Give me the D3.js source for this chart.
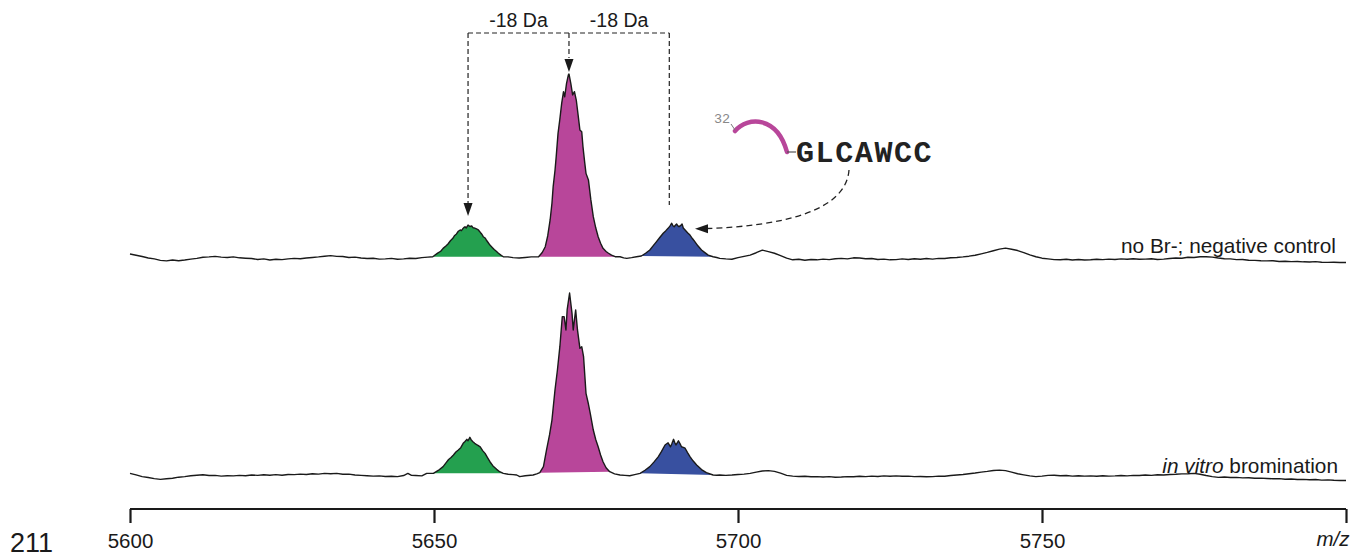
<!DOCTYPE html>
<html lang="en">
<head>
  <meta charset="UTF-8">
  <title>MALDI spectra</title>
  <style>
    body { margin: 0; background: #fff; }
    svg { display: block; font-family: "Liberation Sans", Arial, sans-serif; }
  </style>
</head>
<body>
  <svg width="1362" height="557"></svg>
  <script src="https://d3js.org/d3.v7.min.js"></script>
  <script>
    // m/z, relative intensity (% of base peak)
    var controlSpectrum = [
      [5600,1.1],[5601,0.4],[5602,-0.3],[5603,-1.1],[5604,-1.6],[5605,-2.4],[5606,-2.7],[5607,-2.2],[5608,-2.6],[5609,-2.2],
      [5610,-1.7],[5611,-1.3],[5612,-0.7],[5613,-0.5],[5614,-0.2],[5615,-0.6],[5616,-0.8],[5617,-0.5],[5618,-1.0],[5619,-1.2],
      [5620,-1.4],[5621,-1.9],[5622,-1.6],[5623,-2.2],[5624,-1.8],[5625,-2.0],[5626,-1.6],[5627,-1.3],[5628,-1.5],[5629,-1.1],
      [5630,-0.8],[5631,-0.5],[5632,-0.1],[5633,0.2],[5634,-0.2],[5635,-0.3],[5636,-0.8],[5637,-0.6],[5638,-1.1],[5639,-1.4],
      [5640,-1.2],[5641,-1.7],[5642,-1.6],[5643,-1.3],[5644,-1.8],[5645,-1.6],[5646,-1.2],[5647,-1.4],[5648,-0.9],[5649,-0.6],
      [5649.8,-0.4],[5650.6,1.6],[5651.1,2.6],[5651.5,4.2],[5652.0,5.6],[5652.3,6.6],[5652.7,8.4],[5653.1,9.7],[5653.4,11.3],
      [5653.7,12.1],[5654.0,13.6],[5654.3,14.3],[5654.5,13.9],[5654.7,14.8],[5654.9,15.6],[5655.1,16.1],[5655.3,15.4],
      [5655.6,17.0],[5655.9,16.2],[5656.2,16.5],[5656.4,15.6],[5656.6,15.4],[5656.9,15.0],[5657.3,14.3],[5657.5,13.5],
      [5657.7,12.6],[5657.9,11.8],[5658.1,10.6],[5658.4,9.9],[5658.6,8.8],[5658.9,7.4],[5659.2,6.0],[5659.5,5.0],[5659.9,3.6],
      [5660.2,2.7],[5660.6,1.5],[5661.0,0.5],[5661.4,-0.4],
      [5662.2,-0.5],[5663,-0.9],[5664,-1.1],[5665,-0.8],[5666,-0.5],
      [5667.2,-0.4],[5667.8,1.9],[5668.3,5.1],[5668.7,11.0],[5669.1,19.8],[5669.4,29.0],[5669.6,38.1],[5669.9,47.0],
      [5670.1,54.6],[5670.4,67.4],[5670.7,75.2],[5671.0,83.9],[5671.3,90.3],[5671.5,87.5],[5671.8,94.9],[5672.1,99.5],
      [5672.2,100],[5672.5,94.9],[5672.8,88.5],[5673.1,90.3],[5673.4,85.7],[5673.7,77.5],[5674.0,69.2],[5674.3,68.3],
      [5674.5,60.1],[5674.8,51.0],[5675.0,45.4],[5675.4,41.8],[5675.8,30.8],[5676.2,21.6],[5676.6,15.5],[5677.0,10.6],
      [5677.4,7.0],[5677.8,4.2],[5678.3,2.5],[5678.7,1.5],[5679.2,0.5],[5679.8,-0.4],
      [5680.6,-0.4],[5681.2,-1.0],[5681.7,-1.3],[5682.5,-0.9],[5683.3,-0.4],
      [5684.1,0.0],[5684.8,1.5],[5685.5,3.3],[5686.0,5.4],[5686.6,7.9],[5687.1,10.0],[5687.7,12.5],[5688.1,13.8],[5688.5,15.2],
      [5688.8,16.4],[5689.1,18.0],[5689.3,16.6],[5689.5,16.1],[5689.7,16.9],[5689.9,17.6],[5690.1,16.6],[5690.3,16.1],
      [5690.6,16.8],[5690.8,17.6],[5691.0,15.4],[5691.3,14.3],[5691.7,12.8],[5692.1,11.5],[5692.5,9.6],[5692.9,7.9],
      [5693.4,5.6],[5694.0,3.3],[5694.5,2.0],[5695.1,0.5],[5695.9,-0.4],
      [5696.5,-0.8],[5697,-1.3],[5698,-1.6],[5699,-1.8],[5700,-0.9],[5701,-0.2],[5702,0.5],[5703,1.8],[5704,3.2],[5705,2.4],
      [5706,1.5],[5707,0.2],[5708,-1.2],[5709,-2.1],[5710,-1.8],[5711,-2.3],[5712,-1.9],[5713,-2.1],[5714,-1.7],[5715,-2.0],
      [5716,-1.5],[5717,-1.3],[5718,-1.6],[5719,-1.0],[5720,-1.1],[5721,-1.5],[5722,-1.4],[5723,-1.9],[5724,-1.7],[5725,-2.1],
      [5726,-2.0],[5727,-1.6],[5728,-1.9],[5729,-1.5],[5730,-1.8],[5731,-1.4],[5732,-1.7],[5733,-1.3],[5734,-1.4],[5735,-1.0],
      [5736,-0.8],[5737,-0.5],[5738,-0.1],[5739,0.4],[5740,1.2],[5741,2.0],[5742,2.9],[5743,3.8],[5744,4.3],[5745,3.7],
      [5746,3.0],[5747,1.9],[5748,0.6],[5749,-0.4],[5750,-1.2],[5751,-1.6],[5752,-2.0],[5753,-2.1],[5754,-1.8],[5755,-2.2],
      [5756,-1.9],[5757,-2.2],[5758,-2.1],[5759,-1.8],[5760,-2.0],[5761,-1.7],[5762,-1.9],[5763,-1.6],[5764,-1.8],[5765,-1.5],
      [5766,-1.8],[5767,-1.7],[5768,-1.5],[5769,-1.9],[5770,-1.7],[5771,-1.4],[5772,-1.1],[5773,-1.2],[5774,-0.7],[5775,-0.8],
      [5776,-0.4],[5777,-0.4],[5778,-0.6],[5779,-1.1],[5780,-1.5],[5781,-1.6],[5782,-2.0],[5783,-1.9],[5784,-2.3],[5785,-2.4],
      [5786,-2.6],[5787,-2.7],[5788,-2.6],[5789,-3.0],[5790,-2.9],[5791,-3.1],[5792,-3.0],[5793,-3.2],[5794,-3.3],[5795,-3.1],
      [5796,-3.4],[5797,-3.5],[5798,-3.4],[5799,-3.6],[5800,-3.6]
    ];

    var brominatedSpectrum = [
      [5600,0.9],[5601,0.1],[5602,-0.9],[5603,-1.4],[5604,-2.0],[5605,-2.4],[5606,-2.1],[5607,-1.8],[5608,-1.2],[5609,-0.9],
      [5610,-0.4],[5611,-0.1],[5612,0.1],[5613,-0.3],[5614,-0.2],[5615,-0.6],[5616,-0.4],[5617,-0.5],[5618,-0.2],[5619,-0.4],
      [5620,0.0],[5621,-0.2],[5622,0.1],[5623,-0.1],[5624,0.2],[5625,-0.1],[5626,0.3],[5627,0.2],[5628,0.5],[5629,0.3],
      [5630,0.7],[5631,0.5],[5632,0.9],[5633,0.7],[5634,0.9],[5635,0.4],[5636,0.5],[5637,0.0],[5638,-0.2],[5639,-0.4],
      [5640,-0.6],[5641,-0.5],[5642,-0.8],[5643,-0.7],[5644,-0.9],[5645,-0.3],[5645.7,0.9],[5646.3,-0.2],[5647,-0.3],[5648,-0.5],
      [5648.8,0.9],
      [5649.9,0.9],[5650.7,2.5],[5651.5,4.6],[5652.0,6.8],[5652.4,8.5],[5652.8,9.6],[5653.2,11.0],[5653.6,12.6],[5654.0,13.7],
      [5654.4,15.0],[5654.8,17.4],[5655.1,18.4],[5655.4,19.6],[5655.6,18.8],[5655.9,20.7],[5656.1,19.4],[5656.4,18.3],
      [5656.7,17.4],[5657.1,16.5],[5657.6,15.5],[5658.0,13.4],[5658.4,11.9],[5658.8,9.6],[5659.2,7.3],[5659.7,5.0],
      [5660.3,3.1],[5660.8,1.8],[5661.4,0.9],
      [5662.2,0.4],[5663,0.2],[5663.6,0.0],[5664.1,-0.9],[5665,-0.4],[5666.3,0.0],[5666.9,0.6],
      [5667.4,1.3],[5668.0,4.6],[5668.5,13.7],[5669.0,22.0],[5669.4,30.2],[5669.9,46.7],[5670.3,57.7],[5670.7,70.5],
      [5671.1,87.0],[5671.4,87.0],[5671.7,79.7],[5671.9,90.7],[5672.3,100],[5672.7,88.8],[5672.9,79.7],[5673.3,90.7],
      [5673.6,79.7],[5674.0,69.6],[5674.3,70.5],[5674.6,65.0],[5675.0,44.9],[5675.4,39.0],[5675.7,33.9],[5676.2,24.7],
      [5676.6,19.5],[5677.0,15.5],[5677.4,11.0],[5677.8,7.3],[5678.3,4.0],[5678.9,1.8],
      [5679.7,0.6],[5680.6,0.0],[5681.4,-0.2],[5682.2,-0.4],[5683.0,0.2],
      [5683.9,0.9],[5684.7,2.6],[5685.5,4.6],[5686.2,7.2],[5686.9,10.1],[5687.4,12.8],[5688.0,16.5],[5688.5,17.7],[5688.9,15.5],
      [5689.1,17.0],[5689.4,19.6],[5689.6,17.8],[5689.8,16.5],[5690.0,17.6],[5690.2,18.8],[5690.5,17.0],[5690.7,15.5],
      [5691.0,15.2],[5691.3,14.7],[5691.7,12.3],[5692.1,10.1],[5692.6,7.8],[5693.2,5.5],[5694.0,3.0],[5694.8,1.3],[5695.9,0.0],
      [5696.5,-0.1],[5697,0.0],[5698,-0.2],[5699,0.0],[5700,0.3],[5701,0.5],[5702,0.9],[5703,1.6],[5704,2.2],[5705,2.4],
      [5706,2.0],[5707,1.0],[5708,-0.2],[5709,-0.6],[5710,-0.8],[5711,-0.7],[5712,-1.0],[5713,-0.9],[5714,-1.1],[5715,-0.9],
      [5716,-1.2],[5717,-1.1],[5718,-0.9],[5719,-1.0],[5720,-0.7],[5721,-0.9],[5722,-0.6],[5723,-0.8],[5724,-0.5],[5725,-0.7],
      [5726,-0.5],[5727,-0.7],[5728,-0.6],[5729,-0.9],[5730,-0.8],[5731,-1.0],[5732,-0.9],[5733,-0.6],[5734,-0.7],[5735,-0.3],
      [5736,0.0],[5737,0.3],[5738,0.7],[5739,1.1],[5740,1.6],[5741,2.0],[5742,2.5],[5743,2.7],[5744,2.4],[5745,1.6],
      [5746,0.7],[5747,0.1],[5748,-0.5],[5749,-0.9],[5750,-0.6],[5751,-0.2],[5752,-0.1],[5753,-0.4],[5754,-0.3],[5755,-0.6],
      [5756,-0.4],[5757,-0.6],[5758,-0.5],[5759,-0.7],[5760,-0.4],[5761,-0.6],[5762,-0.5],[5763,-0.3],[5764,-0.5],[5765,-0.2],
      [5766,-0.3],[5767,0.0],[5768,-0.2],[5769,0.1],[5770,0.0],[5771,0.3],[5772,0.4],[5773,0.6],[5774,0.7],[5775,0.9],
      [5776,0.4],[5777,-0.3],[5778,-0.9],[5779,-1.3],[5780,-1.1],[5781,-1.4],[5782,-1.3],[5783,-1.6],[5784,-1.5],[5785,-1.8],
      [5786,-1.7],[5787,-1.9],[5788,-2.1],[5789,-2.0],[5790,-2.3],[5791,-2.2],[5792,-2.5],[5793,-2.4],[5794,-2.6],[5795,-2.5],
      [5796,-2.8],[5797,-2.7],[5798,-2.9],[5799,-3.0],[5800,-3.0]
    ];

    // integration windows (start, end m/z) for the three species
    var controlPeaks = [[5649.8, 5661.4], [5667.2, 5679.8], [5684.1, 5695.9]];
    var brominatedPeaks = [[5649.9, 5661.4], [5667.4, 5678.9], [5683.9, 5695.9]];
    var peakColors = ["#24a04f", "#b8469a", "#3850a0"];

    var traceLabels = ["no Br-; negative control", "in vitro bromination"];
    var shiftMarks = [5655.6, 5672.2, 5688.7];
    var shiftLabels = ["-18 Da", "-18 Da"];
    var tickValues = [5600, 5650, 5700, 5750, 5800];
    var peptide = "GLCAWCC";

    var svg = d3.select("svg");

    var x = d3.scaleLinear().domain([5600, 5800]).range([130, 1346]);
    var yTop = d3.scaleLinear().domain([0, 100]).range([256, 74]);
    var yBottom = d3.scaleLinear().domain([0, 100]).range([475, 293]);

    function drawTrace(data, peaks, y) {
      var line = d3.line()
          .x(function(d) { return x(d[0]); })
          .y(function(d) { return y(d[1]); });

      var g = svg.append("g");

      peaks.forEach(function(p, i) {
        var pts = data.filter(function(d) { return d[0] >= p[0] && d[0] <= p[1]; });
        g.append("path")
          .attr("d", line(pts) + "Z")
          .attr("fill", peakColors[i])
          .attr("stroke", "none");
      });

      g.append("path")
        .datum(data)
        .attr("d", line)
        .attr("fill", "none")
        .attr("stroke", "#1a1a1a")
        .attr("stroke-width", 1.4)
        .attr("stroke-linejoin", "round");
    }

    drawTrace(controlSpectrum, controlPeaks, yTop);
    drawTrace(brominatedSpectrum, brominatedPeaks, yBottom);

    // trace labels
    svg.append("text")
      .attr("x", 1336).attr("y", 253)
      .attr("text-anchor", "end")
      .style("font-size", "20.8px")
      .attr("fill", "#1a1a1a")
      .text(traceLabels[0]);

    var lbl = svg.append("text")
      .attr("x", 1338).attr("y", 473)
      .attr("text-anchor", "end")
      .style("font-size", "20.8px")
      .attr("fill", "#1a1a1a");
    lbl.append("tspan").style("font-style", "italic").text(traceLabels[1].split(" ").slice(0, 2).join(" "));
    lbl.append("tspan").text(" " + traceLabels[1].split(" ").slice(2).join(" "));

    // x axis
    var axis = svg.append("g")
        .attr("transform", "translate(0,509)")
        .call(d3.axisBottom(x).tickValues(tickValues).tickSize(14).tickPadding(10)
          .tickFormat(function(d) { return d === 5800 ? "" : d; }));
    axis.select(".domain").attr("d", "M" + x(5600) + ",0H" + x(5800)).attr("stroke-width", 2.2).attr("stroke", "#1a1a1a");
    axis.selectAll(".tick line").attr("stroke-width", 2.2).attr("stroke", "#1a1a1a");
    axis.selectAll(".tick text")
      .style("font-size", "20.5px")
      .style("font-family", "'Liberation Sans', Arial, sans-serif")
      .attr("fill", "#1a1a1a");

    svg.append("text")
      .attr("x", x(5800) - 13).attr("y", 546)
      .attr("text-anchor", "middle")
      .style("font-size", "20.5px")
      .style("font-style", "italic")
      .attr("fill", "#1a1a1a")
      .text("m/z");

    svg.append("text")
      .attr("x", 10).attr("y", 552)
      .style("font-size", "27px")
      .attr("fill", "#1a1a1a")
      .text("211");

    // -18 Da bracket
    var dash = "5,3";
    var bracketY = 33;
    var ann = svg.append("g").attr("stroke", "#222").attr("stroke-width", 1.2).attr("fill", "none");
    ann.append("path")
      .attr("d", "M" + x(shiftMarks[0]) + "," + bracketY + "H" + x(shiftMarks[2]))
      .attr("stroke-dasharray", dash);
    ann.append("path")
      .attr("d", "M" + x(shiftMarks[0]) + "," + bracketY + "V" + (yTop(17.0) - 22))
      .attr("stroke-dasharray", dash);
    ann.append("path")
      .attr("d", "M" + x(shiftMarks[1]) + "," + bracketY + "V" + (yTop(100) - 16))
      .attr("stroke-dasharray", dash);
    ann.append("path")
      .attr("d", "M" + x(shiftMarks[2]) + "," + bracketY + "V" + 205)
      .attr("stroke-dasharray", dash);

    function arrowDown(cx, tipY) {
      svg.append("path")
        .attr("d", "M" + (cx - 4.5) + "," + (tipY - 13) + "L" + (cx + 4.5) + "," + (tipY - 13) + "L" + cx + "," + tipY + "Z")
        .attr("fill", "#1a1a1a");
    }
    arrowDown(x(shiftMarks[0]), yTop(17.0) - 9);
    arrowDown(x(shiftMarks[1]), yTop(100) - 2);

    shiftLabels.forEach(function(t, i) {
      svg.append("text")
        .attr("x", (x(shiftMarks[i]) + x(shiftMarks[i + 1])) / 2)
        .attr("y", 27)
        .attr("text-anchor", "middle")
        .style("font-size", "19.5px")
        .attr("fill", "#1a1a1a")
        .text(t);
    });

    // peptide sketch: lipid-like tail, residue number and sequence
    var tail = d3.path();
    tail.moveTo(735, 131);
    tail.bezierCurveTo(748, 116, 777, 116, 787, 152);
    svg.append("path")
      .attr("d", tail.toString())
      .attr("fill", "none")
      .attr("stroke", "#b8469a")
      .attr("stroke-width", 4.5)
      .attr("stroke-linecap", "round");

    svg.append("path").attr("d", "M731,124L735,130").attr("stroke", "#777").attr("stroke-width", 1);
    svg.append("path").attr("d", "M787,152H796").attr("stroke", "#555").attr("stroke-width", 1.2);

    svg.append("text")
      .attr("x", 714).attr("y", 123)
      .style("font-size", "13.5px")
      .style("font-family", "'Liberation Mono', monospace")
      .attr("fill", "#888")
      .text("32");

    svg.append("text")
      .attr("x", 796).attr("y", 162)
      .style("font-size", "30px")
      .style("font-family", "'Liberation Mono', 'Courier New', monospace")
      .style("font-weight", "bold")
      .style("letter-spacing", "1.6px")
      .attr("fill", "#222")
      .text(peptide);

    // curved pointer to the blue peak
    var curve = d3.path();
    curve.moveTo(849, 170);
    curve.bezierCurveTo(846, 212, 780, 226, 707, 228.5);
    svg.append("path")
      .attr("d", curve.toString())
      .attr("fill", "none")
      .attr("stroke", "#222")
      .attr("stroke-width", 1.3)
      .attr("stroke-dasharray", "6,4");
    svg.append("path")
      .attr("d", "M695,228.7L708,224.2L708,233.2Z")
      .attr("fill", "#1a1a1a");
  </script>
</body>
</html>
